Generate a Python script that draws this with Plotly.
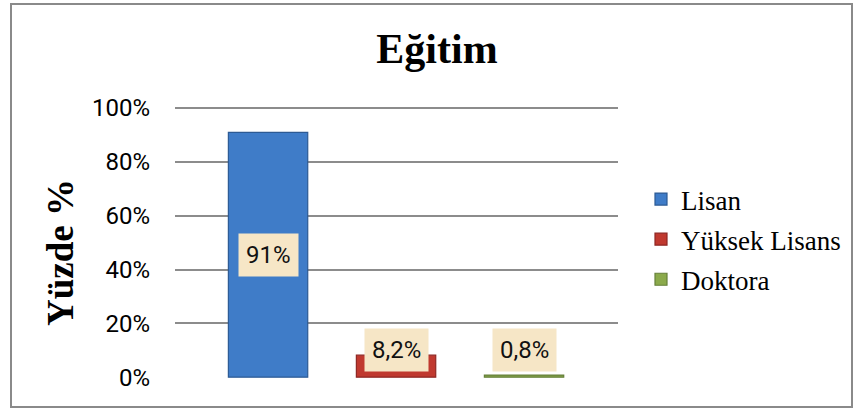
import plotly.graph_objects as go

series = ["Lisan", "Yüksek Lisans", "Doktora"]
values = [91, 8.2, 0.8]
value_labels = ["91%", "8,2%", "0,8%"]
colors = ["#3F7CC8", "#C0392F", "#8BAA4B"]
edge_colors = ["#2C5A94", "#8E2723", "#66803A"]
tick_vals = [0, 20, 40, 60, 80, 100]
tick_text = ["0%", "20%", "40%", "60%", "80%", "100%"]
title_text = "Eğitim"
y_title = "Yüzde %"

W, H = 854, 410
L, R, T, B = 175, 236, 107, 32
pw, ph = W - L - R, H - T - B

fig = go.Figure()
for i, (name, v) in enumerate(zip(series, values)):
    fig.add_trace(go.Bar(
        x=[i], y=[v], name=name, width=0.62,
        marker=dict(color=colors[i], line=dict(color=edge_colors[i], width=1.2)),
        legendgroup=name, hoverinfo="name+y",
    ))

annotations = []
for i, (v, lab) in enumerate(zip(values, value_labels)):
    annotations.append(dict(
        x=i, y=max(v / 2, 10), xref="x", yref="y", text=lab, showarrow=False,
        font=dict(family="Roboto", size=24, color="#111111"),
        bgcolor="#F6E6C6", borderpad=7, xanchor="center", yanchor="middle",
    ))

annotations.append(dict(
    x=(60 - L) / pw, y=(H - B - 252) / ph, xref="paper", yref="paper",
    text=f"<b>{y_title}</b>", textangle=-90, showarrow=False,
    font=dict(family="Liberation Serif", size=37, color="#000000"),
    xanchor="center", yanchor="middle",
))

fig.update_layout(
    width=W, height=H,
    margin=dict(l=L, r=R, t=T, b=B, autoexpand=False),
    paper_bgcolor="white", plot_bgcolor="white",
    title=dict(text=f"<b>{title_text}</b>", x=437 / W, y=1 - 48 / H,
               xref="container", yref="container", xanchor="center", yanchor="middle",
               font=dict(family="Liberation Serif", size=42, color="#000000")),
    xaxis=dict(range=[-0.727, 2.734], showgrid=False, zeroline=False,
               showticklabels=False, ticks="", fixedrange=True),
    yaxis=dict(range=[-0.3, 100.4], tickvals=tick_vals, ticktext=tick_text,
               showgrid=True, gridcolor="#8C8C8C", gridwidth=2, zeroline=False,
               ticks="", ticklabelstandoff=24,
               tickfont=dict(family="Roboto", size=24, color="#000000"),
               fixedrange=True),
    showlegend=True,
    legend=dict(x=(641 - L) / pw, y=(H - B - 175) / ph, xanchor="left", yanchor="top",
                font=dict(family="Liberation Serif", size=27, color="#000000"),
                tracegroupgap=2, bgcolor="rgba(0,0,0,0)", itemclick=False),
    annotations=annotations,
    shapes=[dict(type="rect", xref="paper", yref="paper",
                 x0=(11 - L) / pw, x1=(852 - L) / pw,
                 y0=(H - B - 407) / ph, y1=(H - B - 4) / ph,
                 line=dict(color="#8A8A8A", width=2), layer="below")],
)

fig.write_html("out.html", config={"displayModeBar": False},
               post_script="document.body.style.margin='0';document.body.style.overflow='hidden';")
